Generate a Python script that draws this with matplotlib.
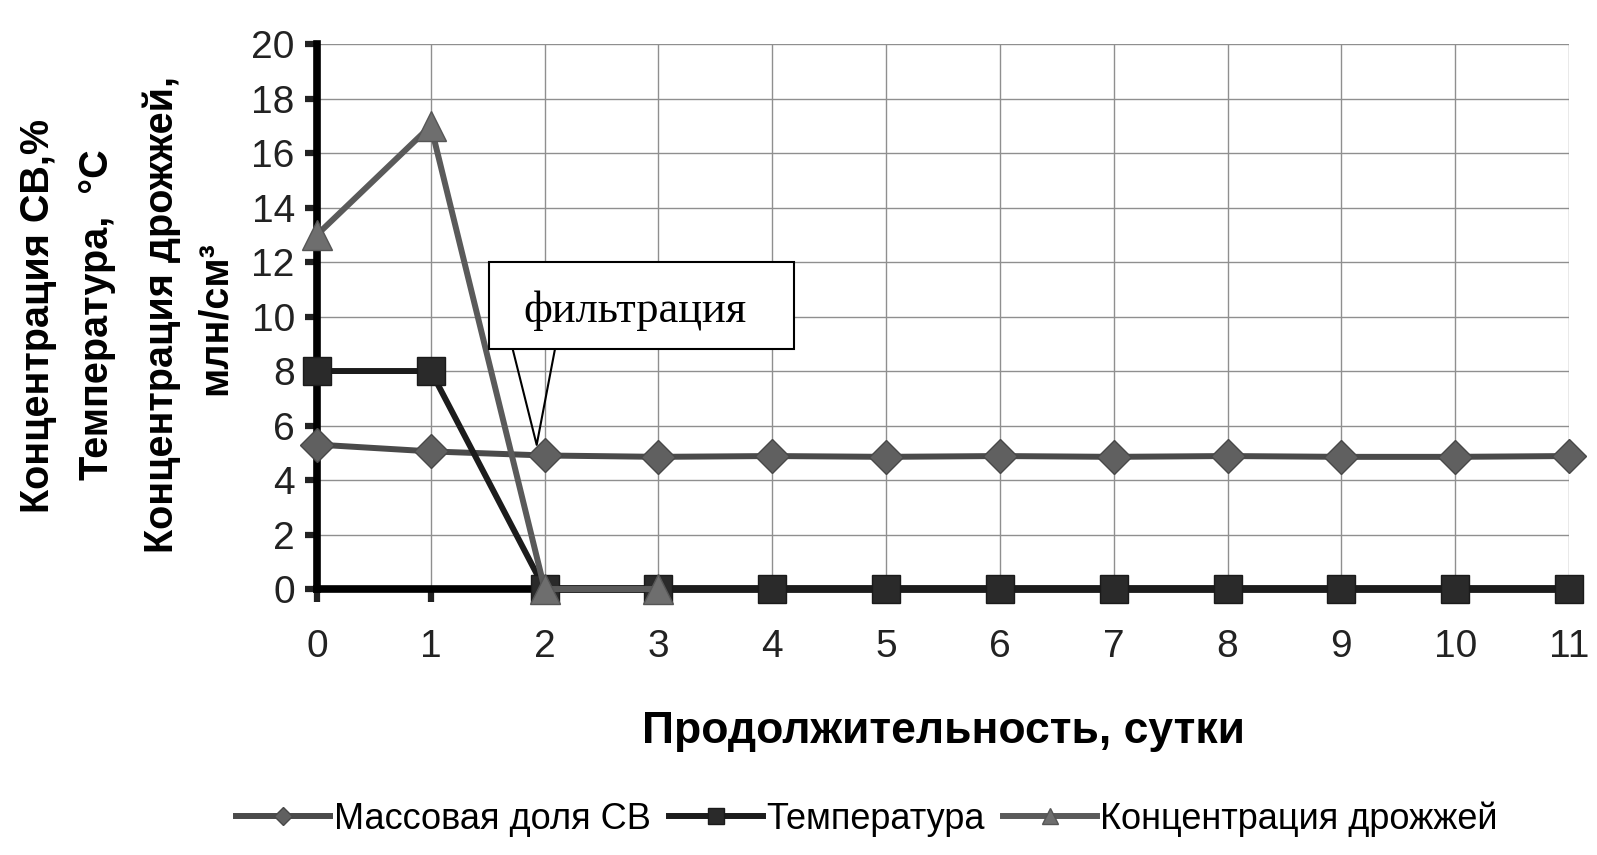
import matplotlib.pyplot as plt
from matplotlib.patches import Rectangle

# данные
days = list(range(12))
sv = [5.3, 5.05, 4.9, 4.85, 4.88, 4.85, 4.88, 4.85, 4.88, 4.85, 4.85, 4.88]
temp = [8, 8, 0, 0, 0, 0, 0, 0, 0, 0, 0, 0]
yeast_days = [0, 1, 2, 3]
yeast = [13, 17, 0, 0]

plt.rcParams['font.family'] = ['Liberation Sans', 'DejaVu Sans']

fig = plt.figure(figsize=(15.97, 8.55), dpi=100)
ax = fig.add_axes([0.1985, 0.3111, 0.7840, 0.6374])

ax.plot(days, sv, marker='D', color='#4a4a4a', mfc='#606060', mec='#484848',
        linewidth=4.3, markersize=17.5, label='Массовая доля СВ', zorder=3, clip_on=False)
ax.plot(days, temp, marker='s', color='#1c1c1c', mfc='#2a2a2a', mec='#1a1a1a',
        linewidth=4.3, markersize=20, label='Температура', zorder=4, clip_on=False)
ax.plot(yeast_days, yeast, marker='^', color='#5a5a5a', mfc='#6e6e6e', mec='#555555',
        linewidth=4.3, markersize=21, label='Концентрация дрожжей', zorder=5, clip_on=False)

ax.set_xlim(0, 11)
ax.set_ylim(0, 20)
ax.set_xticks(days)
ax.set_yticks(range(0, 21, 2))
ax.grid(True, color='#8f8f8f', linewidth=1.0)
ax.set_axisbelow(True)
for s in ['top', 'right']:
    ax.spines[s].set_visible(False)
ax.spines['left'].set_linewidth(5.5)
ax.spines['bottom'].set_linewidth(5.5)
ax.tick_params(axis='both', direction='out', length=9, width=4.5, labelsize=28, colors='#222222')
ax.tick_params(axis='x', pad=20)
ax.tick_params(axis='y', pad=7)

# выноска "фильтрация"
ax.add_patch(Rectangle((1.51, 8.79), 2.68, 3.2, facecolor='white', edgecolor='black',
                       linewidth=1.5, zorder=6))
ax.plot([1.72, 1.93, 2.09], [8.79, 5.29, 8.79], color='black', linewidth=1.5, zorder=6)
ax.text(2.79, 10.2, 'фильтрация', family=['Liberation Serif', 'DejaVu Serif'],
        fontsize=32, ha='center', va='center', zorder=7)

ax.set_xlabel('Продолжительность, сутки', fontsize=32, fontweight='bold', labelpad=33)

# подписи оси Y
fig.text(0.0241, 0.630, 'Концентрация СВ,%', rotation=90, ha='center', va='center',
         fontsize=28.5, fontweight='bold')
fig.text(0.0607, 0.632, 'Температура,  °С', rotation=90, ha='center', va='center',
         fontsize=28.5, fontweight='bold')
fig.text(0.1014, 0.632, 'Концентрация дрожжей,', rotation=90, ha='center', va='center',
         fontsize=28.5, fontweight='bold')
fig.text(0.1346, 0.628, 'млн/см³', rotation=90, ha='center', va='center',
         fontsize=28.5, fontweight='bold')

fig.legend(loc='center', bbox_to_anchor=(0.543, 0.042), ncol=3, frameon=False,
           handlelength=2.6, handletextpad=0.1, columnspacing=0.5,
           prop={'size': 26}, markerscale=0.55)

fig.savefig('out.png', dpi=100)
